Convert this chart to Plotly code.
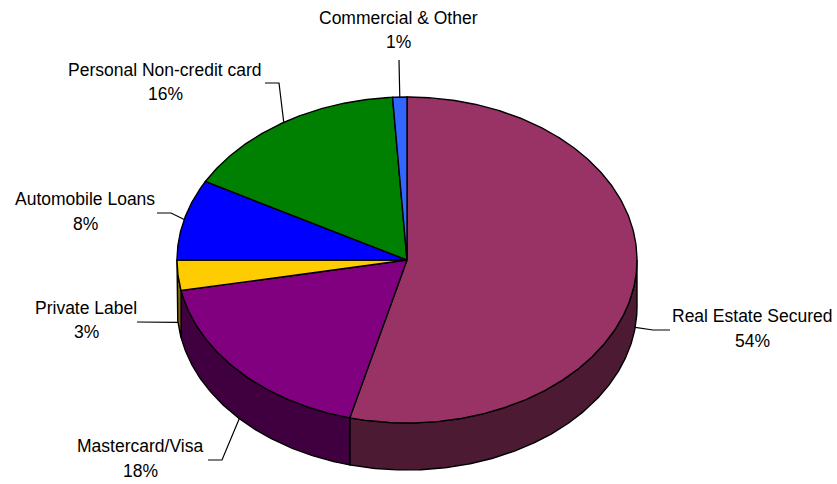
import math
import plotly.graph_objects as go

# ---- data (clockwise from 12 o'clock) ----
labels = ["Real Estate Secured", "Mastercard/Visa", "Private Label",
          "Automobile Loans", "Personal Non-credit card", "Commercial & Other"]
values = [54, 18, 3, 8, 16, 1]
pct_text = ["54%", "18%", "3%", "8%", "16%", "1%"]

# ---- styles ----
top_colors = ["#993366", "#800080", "#FFCC00", "#0000FF", "#008000", "#3366FF"]
side_colors = ["#4D1A33", "#400040", "#806600", "#000080", "#004000", "#1A3380"]

W, H = 837, 484
CX, CY = 407, 260      # pie centre (pixels)
RA, RB = 230, 163      # ellipse radii
DEPTH = 47             # thickness

# label layout: (text centre x, first-line y, second-line y, leader start, elbow)
label_pos = [
    (752, 316, 341, (670, 330), (653, 330)),
    (140, 446, 471, (208, 460), (222, 460)),
    (86, 308, 332, (137, 322), (137, 322)),
    (85, 199, 224, (157, 213), (171, 213)),
    (165, 70, 94, (265, 83), (279, 83)),
    (398, 17.5, 42, (399, 60), (399, 60)),
]


def pt(theta_deg, dy=0.0):
    t = math.radians(theta_deg)
    return CX + RA * math.sin(t), CY - RB * math.cos(t) + dy


def arc(t1, t2, dy=0.0, n=None):
    if n is None:
        n = max(2, int(abs(t2 - t1) * 2) + 2)
    xs, ys = [], []
    for i in range(n + 1):
        x, y = pt(t1 + (t2 - t1) * i / n, dy)
        xs.append(x)
        ys.append(y)
    return xs, ys


total = sum(values)
bounds = []
acc = 0
for v in values:
    t1 = acc / total * 360
    acc += v
    t2 = acc / total * 360
    bounds.append((t1, t2))

fig = go.Figure()
LINE = dict(color="black", width=1.4)

# side faces (front half: 90..270 degrees)
for (t1, t2), sc in zip(bounds, side_colors):
    s1, s2 = max(t1, 90), min(t2, 270)
    if s2 <= s1:
        continue
    xa, ya = arc(s1, s2)
    xb, yb = arc(s2, s1, DEPTH)
    fig.add_trace(go.Scatter(x=xa + xb + [xa[0]], y=ya + yb + [ya[0]],
                             mode="lines", fill="toself", fillcolor=sc,
                             line=LINE, hoverinfo="skip", showlegend=False))

# top faces
for (t1, t2), tc in zip(bounds, top_colors):
    xa, ya = arc(t1, t2)
    xs = [CX] + xa + [CX]
    ys = [CY] + ya + [CY]
    fig.add_trace(go.Scatter(x=xs, y=ys, mode="lines", fill="toself",
                             fillcolor=tc, line=LINE, hoverinfo="skip",
                             showlegend=False))

# leader lines and labels
FONT = dict(family="Liberation Sans, Arial, sans-serif", size=17.5, color="black")
for (t1, t2), lab, pc, lp in zip(bounds, labels, pct_text, label_pos):
    mid = (t1 + t2) / 2
    dy = DEPTH if math.cos(math.radians(mid)) < 0 else 0
    ax, ay = pt(mid, dy)
    tx, y1, y2, start, elbow = lp
    fig.add_trace(go.Scatter(x=[start[0], elbow[0], ax], y=[start[1], elbow[1], ay],
                             mode="lines", line=dict(color="black", width=1.2),
                             hoverinfo="skip", showlegend=False))
    fig.add_annotation(x=tx, y=y1, text=lab, showarrow=False, font=FONT,
                       xanchor="center", yanchor="middle")
    fig.add_annotation(x=tx, y=y2, text=pc, showarrow=False, font=FONT,
                       xanchor="center", yanchor="middle")

fig.update_layout(
    width=W, height=H, autosize=False,
    margin=dict(l=0, r=0, t=0, b=0),
    paper_bgcolor="white", plot_bgcolor="white",
    xaxis=dict(range=[0, W], visible=False, fixedrange=True),
    yaxis=dict(range=[H, 0], visible=False, fixedrange=True),
)
fig.write_html("out.html")
